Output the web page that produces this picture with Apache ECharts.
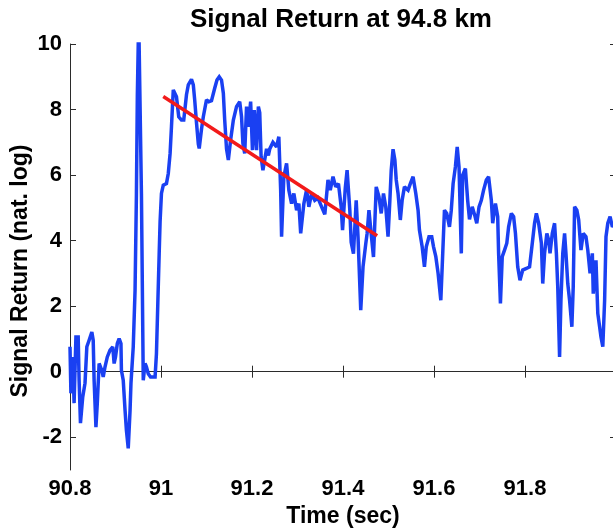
<!DOCTYPE html>
<html>
<head>
<meta charset="utf-8">
<script src="https://cdn.jsdelivr.net/npm/echarts@6/dist/echarts.min.js"></script>
<style>
  html, body { margin: 0; padding: 0; background: #fff; }
  #chart { width: 613px; height: 529px; }
</style>
</head>
<body>
<div id="chart"></div>
<script>
// Sample times (s) of the recorded signal
const times = [
  90.800, 90.802, 90.806, 90.809, 90.813, 90.818, 90.820, 90.823, 90.828, 90.833,
  90.837, 90.842, 90.848, 90.851, 90.853, 90.857, 90.860, 90.864, 90.870, 90.873,
  90.877, 90.882, 90.888, 90.894, 90.897, 90.900, 90.904, 90.908, 90.912, 90.913,
  90.917, 90.921, 90.924, 90.928, 90.932, 90.934, 90.939, 90.943, 90.946, 90.948,
  90.951, 90.955, 90.957, 90.961, 90.965, 90.968, 90.972, 90.977, 90.987, 90.990,
  90.993, 90.996, 90.998, 91.001, 91.005, 91.012, 91.016, 91.020, 91.023, 91.027,
  91.031, 91.034, 91.039, 91.045, 91.050, 91.056, 91.060, 91.067, 91.071, 91.074,
  91.078, 91.082, 91.084, 91.089, 91.093, 91.100, 91.105, 91.111, 91.118, 91.123,
  91.128, 91.133, 91.137, 91.140, 91.144, 91.148, 91.153, 91.159, 91.166, 91.173,
  91.177, 91.180, 91.184, 91.188, 91.192, 91.197, 91.201, 91.205, 91.210, 91.214,
  91.217, 91.220, 91.224, 91.232, 91.236, 91.239, 91.246, 91.254, 91.259, 91.263,
  91.265, 91.270, 91.276, 91.281, 91.287, 91.292, 91.298, 91.303, 91.307, 91.314,
  91.320, 91.325, 91.331, 91.338, 91.345, 91.353, 91.360, 91.367, 91.372, 91.378,
  91.384, 91.390, 91.396, 91.399, 91.405, 91.409, 91.415, 91.418, 91.423, 91.429,
  91.433, 91.439, 91.444, 91.450, 91.453, 91.457, 91.462, 91.467, 91.473, 91.479,
  91.484, 91.489, 91.494, 91.499, 91.503, 91.506, 91.510, 91.514, 91.517, 91.521,
  91.526, 91.530, 91.535, 91.543, 91.548, 91.554, 91.560, 91.565, 91.568, 91.574,
  91.579, 91.583, 91.589, 91.595, 91.599, 91.604, 91.609, 91.615, 91.618, 91.623,
  91.628, 91.634, 91.638, 91.642, 91.647, 91.651, 91.655, 91.660, 91.663, 91.669,
  91.674, 91.678, 91.684, 91.689, 91.694, 91.699, 91.704, 91.709, 91.715, 91.720,
  91.726, 91.729, 91.735, 91.740, 91.742, 91.746, 91.750, 91.755, 91.760, 91.764,
  91.770, 91.775, 91.779, 91.784, 91.789, 91.795, 91.803, 91.810, 91.816, 91.821,
  91.825, 91.830, 91.836, 91.839, 91.843, 91.848, 91.852, 91.855, 91.860, 91.865,
  91.869, 91.872, 91.876, 91.879, 91.883, 91.887, 91.890, 91.894, 91.898, 91.903,
  91.906, 91.909, 91.914, 91.918, 91.923, 91.928, 91.934, 91.938, 91.943, 91.948,
  91.950, 91.956, 91.960, 91.964, 91.967, 91.971, 91.975, 91.978, 91.982, 91.987,
  91.992, 91.996
];

// Signal return (natural log) at each sample time
const signal = [
  0.76, -0.66, 0.45, -0.96, 1.06, 1.06, -0.26, -1.57, -0.77, -0.35,
  0.76, 0.96, 1.21, 0.96, -0.26, -1.69, -0.96, 0.25, 0.04, -0.16,
  0.15, 0.45, 0.66, 0.76, 0.25, 0.45, 0.86, 1.01, 0.86, 0.04,
  -0.26, -1.18, -1.79, -2.34, -1.18, -0.35, 0.76, 2.49, 5.44, 8.44,
  10.8, 10.8, 5.44, -0.26, 0.25, 0.15, -0.06, -0.16, -0.16, 0.55,
  2.08, 3.60, 4.58, 5.44, 5.69, 5.74, 6.05, 6.66, 7.47, 8.60,
  8.65, 8.39, 7.78, 7.68, 7.68, 8.45, 8.75, 8.92, 8.75, 8.30,
  7.60, 6.95, 6.81, 7.40, 7.78, 8.30, 8.24, 8.27, 8.65, 8.90,
  9.00, 8.90, 8.50, 7.68, 6.80, 6.46, 7.07, 7.68, 8.09, 8.24,
  7.78, 6.97, 6.66, 8.09, 7.47, 8.24, 6.76, 7.98, 6.76, 8.09,
  7.90, 6.56, 6.15, 6.80, 6.60, 6.80, 7.00, 6.86, 7.17, 5.54,
  4.12, 5.95, 6.36, 5.54, 5.13, 5.44, 4.93, 5.13, 4.22, 5.13,
  5.55, 5.03, 5.44, 5.23, 5.30, 5.03, 4.80, 5.85, 5.54, 5.95,
  5.64, 5.74, 5.03, 4.32, 5.60, 6.15, 4.93, 3.95, 3.60, 5.23,
  4.12, 1.88, 3.20, 3.90, 4.22, 4.93, 4.20, 3.50, 5.64, 5.34,
  4.83, 5.44, 5.03, 4.12, 5.23, 6.15, 6.79, 6.46, 5.85, 5.44,
  4.63, 5.23, 5.64, 5.54, 5.74, 5.95, 5.44, 4.93, 4.32, 3.81,
  3.20, 3.81, 4.12, 4.12, 3.81, 3.51, 3.00, 2.18, 3.20, 4.93,
  4.83, 4.42, 4.93, 5.74, 6.25, 6.86, 6.25, 3.61, 6.00, 6.20,
  5.23, 4.65, 5.03, 4.80, 4.53, 5.03, 5.23, 5.54, 5.85, 5.95,
  5.23, 4.53, 5.13, 4.73, 3.61, 2.08, 3.51, 3.71, 3.92, 4.42,
  4.83, 4.73, 4.22, 3.20, 2.79, 3.10, 3.15, 3.20, 3.92, 4.53,
  4.83, 4.53, 3.92, 2.69, 3.61, 4.22, 4.02, 3.61, 4.22, 4.53,
  3.61, 2.59, 0.45, 2.18, 3.61, 4.22, 3.61, 2.69, 2.18, 1.37,
  2.59, 5.03, 4.93, 4.63, 3.71, 4.22, 4.12, 3.71, 3.00, 3.61,
  2.38, 3.40, 1.78, 1.37, 1.06, 0.76, 2.18, 4.12, 4.53, 4.73,
  4.42, 4.50
];

// Linear fit of the decay after the onset
const fitTimes = [91.005, 91.475];
const fitValues = [8.40, 4.15];

// Axis ticks
const xTicks = [90.8, 91, 91.2, 91.4, 91.6, 91.8, 92];
const yTicks = [-2, 0, 2, 4, 6, 8, 10];

const FONT = 'Liberation Sans, Arial, sans-serif';
const axisColor = '#2b2b2b';

const zip = (a, b) => a.map((v, i) => [v, b[i]]);

const chart = echarts.init(document.getElementById('chart'), null, { renderer: 'canvas' });

const tickLabel = {
  color: '#000', fontFamily: FONT, fontWeight: 'bold', fontSize: 22
};

chart.setOption({
  backgroundColor: '#fff',
  animation: false,
  title: {
    text: 'Signal Return at 94.8 km',
    left: 185, top: 2,
    textStyle: { color: '#000', fontFamily: FONT, fontWeight: 'bold', fontSize: 26 }
  },
  grid: { left: 70, right: -3, top: 44, bottom: 59, containLabel: false, outerBoundsMode: 'none' },
  xAxis: [{
    type: 'value', min: 90.8, max: 92, position: 'bottom',
    name: 'Time (sec)', nameLocation: 'middle', nameGap: 31,
    nameTextStyle: { color: '#000', fontFamily: FONT, fontWeight: 'bold', fontSize: 23 },
    axisLine: { show: true, lineStyle: { color: axisColor, width: 1 } },
    axisTick: { show: true, inside: true, length: 6, customValues: xTicks, lineStyle: { color: axisColor } },
    axisLabel: Object.assign({ margin: 8, customValues: xTicks.slice(0, 6),
      formatter: v => String(+v.toFixed(1)) }, tickLabel),
    splitLine: { show: false }
  }, {
    type: 'value', min: 90.8, max: 92, position: 'top',
    axisLine: { show: true, lineStyle: { color: axisColor, width: 1 } },
    axisTick: { show: true, inside: true, length: 6, customValues: xTicks, lineStyle: { color: axisColor } },
    axisLabel: { show: false },
    splitLine: { show: false }
  }],
  yAxis: [{
    type: 'value', min: -3, max: 10, position: 'left',
    name: 'Signal Return (nat. log)', nameLocation: 'middle', nameGap: 38, nameRotate: 90,
    nameMoveOverlap: false,
    nameTextStyle: { color: '#000', fontFamily: FONT, fontWeight: 'bold', fontSize: 23,
      padding: [0, 28, 0, 0] },
    axisLine: { show: true, lineStyle: { color: axisColor, width: 1 } },
    axisTick: { show: true, inside: true, length: 6, customValues: yTicks, lineStyle: { color: axisColor } },
    axisLabel: Object.assign({ margin: 8, customValues: yTicks }, tickLabel),
    splitLine: { show: false }
  }, {
    type: 'value', min: -3, max: 10, position: 'right',
    axisLine: { show: true, lineStyle: { color: axisColor, width: 1 } },
    axisTick: { show: true, inside: true, length: 6, customValues: yTicks, lineStyle: { color: axisColor } },
    axisLabel: { show: false },
    splitLine: { show: false }
  }],
  series: [{
    name: 'Signal', type: 'line', xAxisIndex: 0, yAxisIndex: 0,
    data: zip(times, signal),
    showSymbol: false, clip: true,
    lineStyle: { color: '#1a40f2', width: 3.5, join: 'miter', miterLimit: 2 },
    z: 2
  }, {
    name: 'Fit', type: 'line', xAxisIndex: 0, yAxisIndex: 0,
    data: zip(fitTimes, fitValues),
    showSymbol: false, clip: true,
    lineStyle: { color: '#f21a1a', width: 3.5 },
    z: 3
  }]
});
</script>
</body>
</html>
